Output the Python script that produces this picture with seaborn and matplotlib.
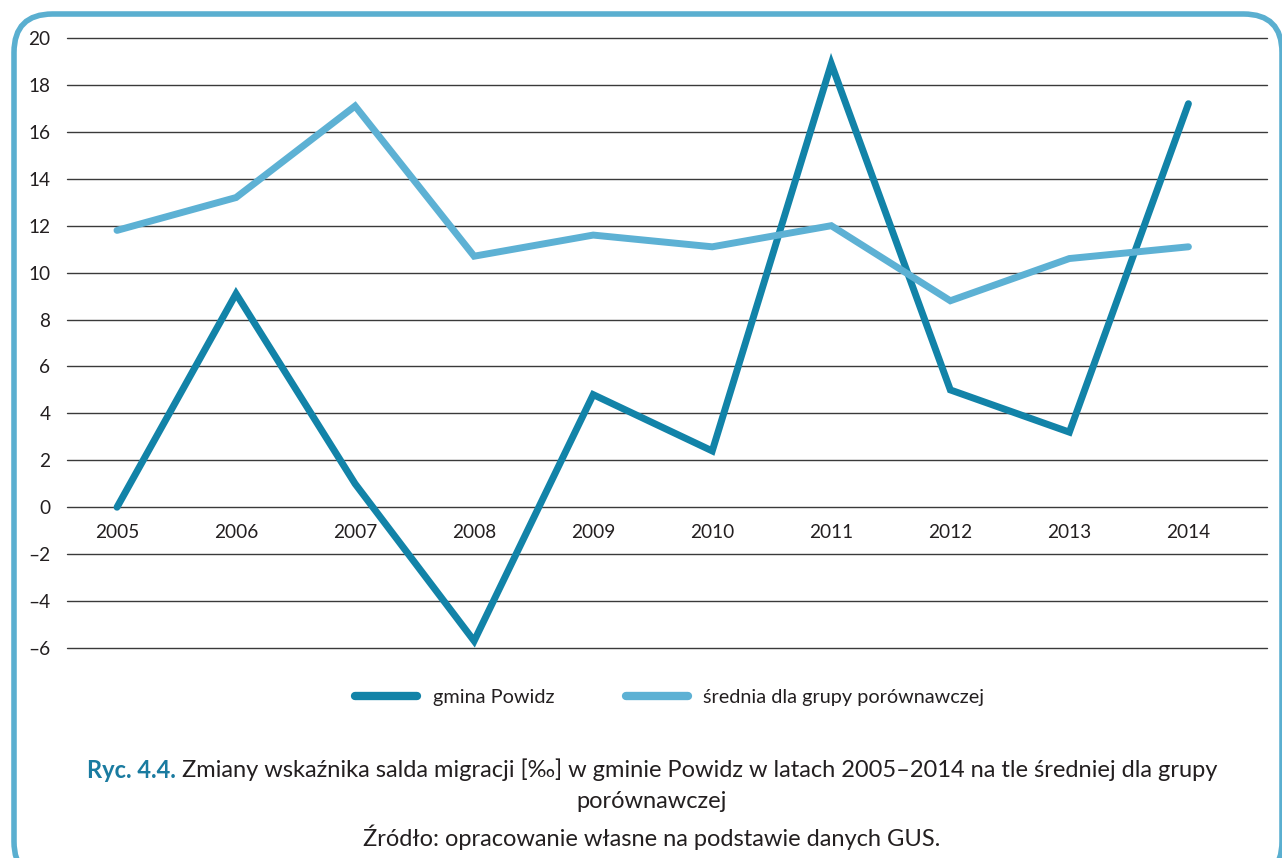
import pandas as pd
import matplotlib.pyplot as plt
import seaborn as sns
from matplotlib.patches import FancyBboxPatch
from matplotlib.lines import Line2D

# dane
years = ['2005', '2006', '2007', '2008', '2009', '2010', '2011', '2012', '2013', '2014']
powidz = [0.0, 9.1, 1.0, -5.7, 4.8, 2.4, 18.9, 5.0, 3.2, 17.2]
srednia = [11.8, 13.2, 17.1, 10.7, 11.6, 11.1, 12.0, 8.8, 10.6, 11.1]
series_names = ['gmina Powidz', 'średnia dla grupy porównawczej']
y_ticks = list(range(-6, 21, 2))

dark = '#1283A8'
light = '#5DB1D4'
frame = '#5AAFD0'
txt = '#231F20'

sns.set_theme(style="white")
plt.rcParams['font.family'] = ['Lato', 'DejaVu Sans']

df = pd.DataFrame({
    'pos': list(range(len(years))) * 2,
    'value': powidz + srednia,
    'seria': [series_names[0]] * len(years) + [series_names[1]] * len(years),
})

fig = plt.figure(figsize=(12.82, 8.58), dpi=100)
ax = fig.add_axes([67 / 1282, 1 - 648 / 858, 1200 / 1282, 610 / 858])

sns.lineplot(data=df, x='pos', y='value', hue='seria', palette=[dark, light],
             linewidth=5, ax=ax, legend=False, sort=False)
for ln in ax.lines:
    ln.set_solid_capstyle('round')
    ln.set_solid_joinstyle('miter')

# oś X przecina w zerze (ustawić przed etykietami, bo resetuje ticki)
ax.spines['bottom'].set_position(('data', 0))
for s in ax.spines.values():
    s.set_visible(False)

ax.set_xlim(-0.42, 9.66)
ax.set_ylim(-6, 20)
ax.set_yticks(y_ticks)
ax.set_yticklabels([str(v).replace('-', '\u2013') for v in y_ticks])
ax.set_xticks(range(len(years)))
ax.set_xticklabels(years)
ax.tick_params(axis='both', length=0, labelsize=13.7, labelcolor=txt)
ax.tick_params(axis='y', pad=12)
ax.tick_params(axis='x', pad=12)
ax.yaxis.grid(True, color='#3a3a3a', linewidth=1.0)
ax.xaxis.grid(False)
for gl in ax.get_ygridlines():
    gl.set_clip_on(False)
ax.set_axisbelow(True)
ax.set_xlabel('')
ax.set_ylabel('')

# legenda
handles = [Line2D([0], [0], color=dark, lw=6, solid_capstyle='round'),
           Line2D([0], [0], color=light, lw=6, solid_capstyle='round')]
fig.legend(handles, series_names, loc='center', bbox_to_anchor=(670 / 1282, 1 - 697 / 858),
           ncol=2, frameon=False, fontsize=14.3, handlelength=3.1, handletextpad=0.8,
           columnspacing=3.6, labelcolor=txt)

# podpis
fig.canvas.draw()
r = fig.canvas.get_renderer()
fs = 17
t1 = fig.text(0, 1 - 770 / 858, 'Ryc. 4.4.', fontsize=fs, fontweight='bold', color='#1A7BA0', va='center')
t2 = fig.text(0, 1 - 770 / 858, ' Zmiany wskaźnika salda migracji [‰] w gminie Powidz w latach 2005–2014 na tle średniej dla grupy',
              fontsize=fs, color=txt, va='center')
w1 = t1.get_window_extent(r).width
w2 = t2.get_window_extent(r).width
x0 = (652 - (w1 + w2) / 2) / 1282
t1.set_x(x0)
t2.set_x(x0 + w1 / 1282)
fig.text(652 / 1282, 1 - 801 / 858, 'porównawczej', fontsize=fs, color=txt, ha='center', va='center')
fig.text(652 / 1282, 1 - 837 / 858, 'Źródło: opracowanie własne na podstawie danych GUS.', fontsize=fs,
         color=txt, ha='center', va='center')

# ramka
box = FancyBboxPatch((14 / 1282, 1 - 880 / 858), 1268 / 1282, 866 / 858,
                     boxstyle='round,pad=0,rounding_size=0.03', transform=fig.transFigure,
                     fill=False, edgecolor=frame, linewidth=4, mutation_aspect=1282 / 858)
fig.patches.append(box)

fig.savefig('out.png', dpi=100)
